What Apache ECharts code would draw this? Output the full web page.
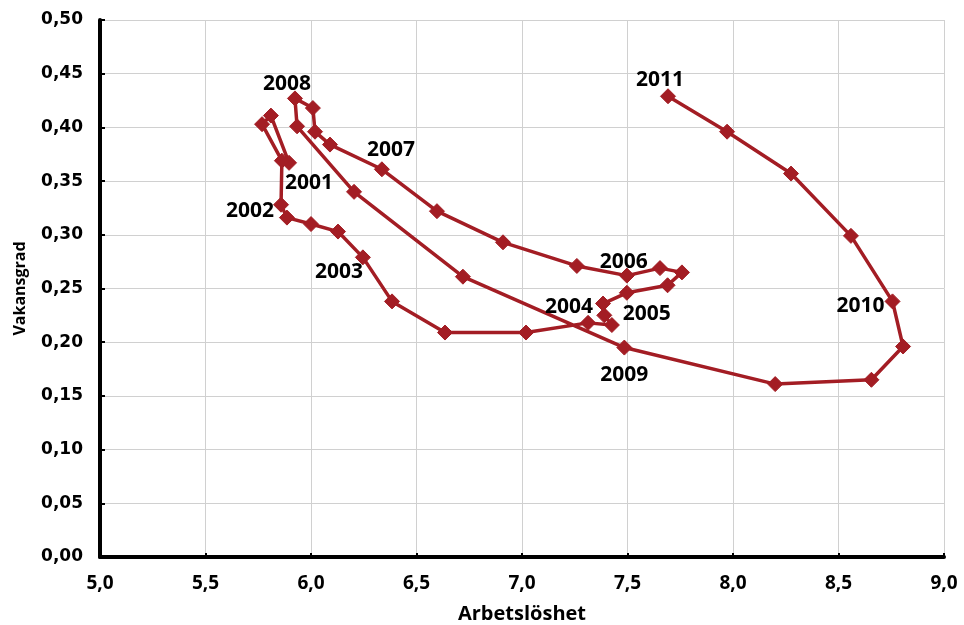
<!DOCTYPE html>
<html>
<head>
<meta charset="utf-8">
<script src="https://cdn.jsdelivr.net/npm/echarts@6/dist/echarts.min.js"></script>
<style>html,body{margin:0;padding:0;background:#fff}#c{width:964px;height:625px}</style>
</head>
<body>
<div id="c"></div>
<script>
// Quarterly points 2001Q1 .. 2011Q1
const unemployment = [
  5.896, 5.810, 5.768, 5.862,
  5.858, 5.886, 6.000, 6.128,
  6.246, 6.384, 6.635, 7.019,
  7.313, 7.426, 7.390, 7.384,
  7.497, 7.690, 7.758, 7.654,
  7.497, 7.260, 6.910, 6.597,
  6.336, 6.090, 6.019, 6.009,
  5.924, 5.934, 6.204, 6.720,
  7.485, 8.200, 8.656, 8.806,
  8.756, 8.559, 8.275, 7.972,
  7.692
];
const vacancies = [
  0.367, 0.411, 0.403, 0.369,
  0.328, 0.316, 0.310, 0.303,
  0.279, 0.238, 0.209, 0.209,
  0.218, 0.216, 0.225, 0.236,
  0.246, 0.253, 0.265, 0.269,
  0.262, 0.271, 0.293, 0.322,
  0.361, 0.384, 0.396, 0.418,
  0.427, 0.401, 0.340, 0.261,
  0.195, 0.161, 0.165, 0.196,
  0.238, 0.299, 0.357, 0.396,
  0.429
];
const yearLabels = ['2001','2002','2003','2004','2005','2006','2007','2008','2009','2010','2011'];
const yearLabelIndex = [0, 4, 8, 12, 16, 20, 24, 28, 32, 36, 40];
const labelOffsets = [[20,20],[-31,6],[-24,15],[-19,-16],[20,21],[-3,-14],[9,-19],[-8,-14],[0,27],[-32,5],[-8,-16]];

const lineColor = '#A31D24';
const data = unemployment.map((x, i) => {
  const item = { value: [x, vacancies[i]] };
  const k = yearLabelIndex.indexOf(i);
  if (k >= 0) {
    item.label = {
      show: true, formatter: yearLabels[k], position: 'inside',
      offset: labelOffsets[k], color: '#000', fontFamily: 'Open Sans',
      fontWeight: 'bold', fontSize: 21, align: 'center', verticalAlign: 'middle'
    };
  }
  return item;
});

const chart = echarts.init(document.getElementById('c'), null, { renderer: 'canvas' });
chart.setOption({
  backgroundColor: '#fff',
  animation: false,
  grid: { left: 100, right: 20, top: 20, bottom: 68, containLabel: false, outerBoundsMode: 'none' },
  xAxis: {
    type: 'value', min: 5, max: 9, interval: 0.5,
    name: 'Arbetslöshet', nameLocation: 'middle', nameGap: 47,
    nameTextStyle: { fontFamily: 'Open Sans', fontWeight: 'bold', fontSize: 20, color: '#000' },
    axisLine: { show: true, onZero: false, lineStyle: { color: '#000', width: 4 } },
    axisTick: { show: true, inside: true, length: 4, lineStyle: { color: '#000', width: 2 } },
    axisLabel: { fontFamily: 'Open Sans', fontWeight: 'bold', fontSize: 19, color: '#000', margin: 17,
      formatter: v => v.toFixed(1).replace('.', ',') },
    splitLine: { show: true, lineStyle: { color: '#d0d0d0', width: 1 } }
  },
  yAxis: {
    type: 'value', min: 0, max: 0.5, interval: 0.05,
    name: 'Vakansgrad', nameLocation: 'middle', nameGap: 72, nameRotate: 90,
    nameTextStyle: { fontFamily: 'Open Sans', fontWeight: 'bold', fontSize: 16, color: '#000' },
    axisLine: { show: true, onZero: false, lineStyle: { color: '#000', width: 4 } },
    axisTick: { show: true, inside: true, length: 5, lineStyle: { color: '#000', width: 2 } },
    axisLabel: { fontFamily: 'DejaVu Sans', fontWeight: 'bold', fontSize: 17, color: '#000', margin: 17,
      formatter: v => v.toFixed(2).replace('.', ',') },
    splitLine: { show: true, lineStyle: { color: '#d0d0d0', width: 1 } }
  },
  series: [{
    type: 'line',
    data: data,
    symbol: 'diamond',
    symbolSize: 15,
    showAllSymbol: true,
    lineStyle: { color: lineColor, width: 3.5 },
    itemStyle: { color: lineColor, borderColor: lineColor, borderWidth: 1 },
    emphasis: { disabled: true },
    z: 3
  }]
});
</script>
</body>
</html>
